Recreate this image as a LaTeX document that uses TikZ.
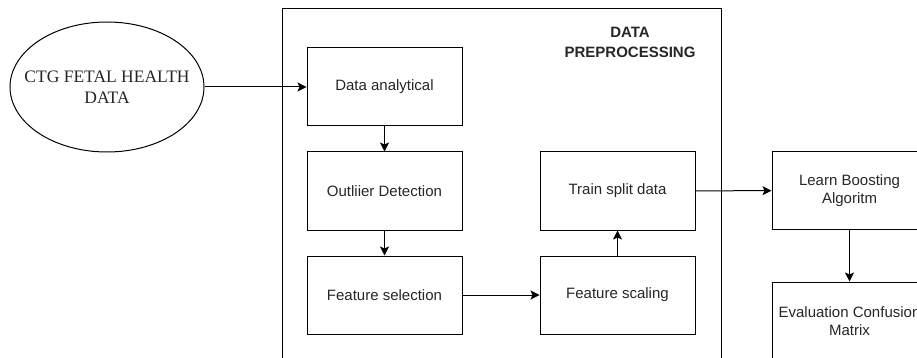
\documentclass[tikz,border=0pt]{standalone}
\usepackage{fontspec}
\setmainfont{Liberation Sans}
\newfontfamily\serifct{Liberation Serif}
\usetikzlibrary{arrows.meta,shapes.geometric}
\begin{document}
\begin{tikzpicture}[x=1pt,y=-1pt,
  stepbox/.style={draw=black,line width=1pt,rectangle,minimum width=155pt,minimum height=78pt,inner sep=0pt,
    align=center,font=\fontsize{15}{18}\selectfont,text=black!85},
  conn/.style={draw=black,line width=1pt,-{Stealth[length=9pt,width=9pt,inset=2pt]}}]
\useasboundingbox (0,0) rectangle (917,358);
\clip (0,0) rectangle (917,358);
\node[draw=black,line width=1pt,rectangle,minimum width=439pt,minimum height=370pt,inner sep=0pt] (pre) at (501.5,194) {};
\node[align=center,font=\bfseries\fontsize{15}{20}\selectfont,text=black!85] (lbl) at (630,42) {DATA\\PREPROCESSING};
\node[draw=black,line width=1pt,ellipse,minimum width=194pt,minimum height=130pt,inner sep=0pt] (ctg) at (107,87) {};
\node[align=center,font=\serifct\fontsize{17.5}{21}\selectfont,text=black!85] (ctgt) at (ctg.center) {CTG FETAL HEALTH\\DATA};
\node[stepbox] (da) at (384.5,87) {Data analytical};
\node[stepbox] (od) at (384.5,191) {Outliier Detection};
\node[stepbox] (fs) at (384.5,295) {Feature selection};
\node[stepbox] (ts) at (617.5,191) {Train split data};
\node[stepbox] (fc) at (617.5,295) {Feature scaling};
\node[stepbox] (lb) at (849.5,190.5) {Learn Boosting\\Algoritm};
\node[stepbox] (ev) at (849.5,321) {Evaluation Confusion\\Matrix};
\draw[conn] (ctg) -- (da);
\draw[conn] (da) -- (od);
\draw[conn] (od) -- (fs);
\draw[conn] (fs) -- (fc);
\draw[conn] (fc) -- (ts);
\draw[conn] (ts) -- (lb);
\draw[conn] (lb) -- (ev);
\end{tikzpicture}
\end{document}
